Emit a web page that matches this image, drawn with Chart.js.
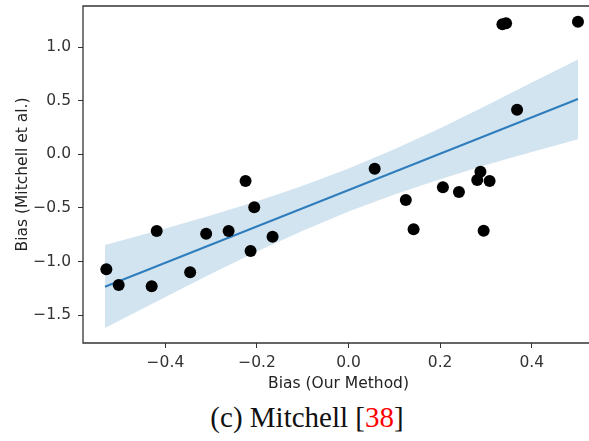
<!DOCTYPE html>
<html>
<head>
<meta charset="utf-8">
<script src="https://cdn.jsdelivr.net/npm/chart.js@4/dist/chart.umd.min.js"></script>
<style>
  html, body { margin: 0; padding: 0; background: #fff; overflow: hidden; }
  #wrap { position: relative; width: 600px; height: 400px; }
  #chart { display: block; }
  #caption {
    position: absolute; left: 0; top: 401px; width: 614px;
    text-align: center; font-family: "Liberation Serif", serif;
    font-size: 29px; line-height: 32px; color: #111; white-space: nowrap;
  }
  #caption .ref { color: #f00; }
</style>
</head>
<body>
<div id="wrap"><canvas id="chart" width="600" height="400"></canvas></div>
<div id="caption">(c) Mitchell [<span class="ref">38</span>]</div>
<script>
// per-sample bias, ours vs. Mitchell et al.
const biasOurs = [-0.529, -0.502, -0.430, -0.419, -0.346, -0.311, -0.262, -0.225,
  -0.214, -0.206, -0.166, 0.057, 0.125, 0.142, 0.206, 0.241, 0.281, 0.288, 0.295,
  0.308, 0.336, 0.344, 0.368, 0.501];
const biasMitchell = [-1.073, -1.219, -1.231, -0.715, -1.101, -0.740, -0.715, -0.249,
  -0.902, -0.495, -0.768, -0.134, -0.426, -0.700, -0.308, -0.352, -0.240, -0.162, -0.713,
  -0.249, 1.213, 1.222, 0.416, 1.237];

// regression line and its confidence band
const fitX = [-0.532, 0.501];
const fitY = [-1.235, 0.516];
const bandX = [-0.532, -0.4, -0.3, -0.2, -0.1, 0, 0.1, 0.2, 0.3, 0.4, 0.501];
const bandUpper = [-0.845, -0.691, -0.569, -0.437, -0.294, -0.133, 0.047, 0.244, 0.453, 0.669, 0.885];
const bandLower = [-1.620, -1.331, -1.115, -0.907, -0.712, -0.533, -0.375, -0.232, -0.101, 0.021, 0.140];

const xTicks = [-0.4, -0.2, 0, 0.2, 0.4];
const yTicks = [-1.5, -1.0, -0.5, 0, 0.5, 1.0];

const pairs = (xs, ys) => xs.map((x, i) => ({ x: x, y: ys[i] }));
const fmt = v => (v < 0 ? '\u2212' : '') + Math.abs(v).toFixed(1);

const axisColor = '#333';
const font = { family: 'DejaVu Sans', size: 15.5 };

// left, top and bottom spines (the right one falls past the page edge)
const frame = {
  id: 'frame',
  afterDraw(chart) {
    const a = chart.chartArea, ctx = chart.ctx;
    ctx.save();
    ctx.strokeStyle = axisColor;
    ctx.lineWidth = 1.3;
    ctx.beginPath();
    ctx.moveTo(a.right + 2, a.top);
    ctx.lineTo(a.left, a.top);
    ctx.lineTo(a.left, a.bottom);
    ctx.lineTo(a.right + 2, a.bottom);
    ctx.stroke();
    ctx.restore();
  }
};

new Chart(document.getElementById('chart'), {
  type: 'scatter',
  data: {
    datasets: [
      {
        type: 'line', data: pairs(bandX, bandUpper), borderWidth: 0,
        pointRadius: 0, fill: false, order: 3
      },
      {
        type: 'line', data: pairs(bandX, bandLower), borderWidth: 0,
        pointRadius: 0, fill: '-1', backgroundColor: 'rgba(31,119,180,0.2)', order: 3
      },
      {
        type: 'line', data: pairs(fitX, fitY), borderColor: '#2f7dbd',
        borderWidth: 2, pointRadius: 0, fill: false, order: 2
      },
      {
        data: pairs(biasOurs, biasMitchell), backgroundColor: '#000',
        borderWidth: 0, pointRadius: 6, order: 1
      }
    ]
  },
  plugins: [frame],
  options: {
    responsive: false,
    animation: false,
    events: [],
    layout: { padding: { top: 6, right: 0, left: 0, bottom: 0 } },
    plugins: { legend: { display: false }, tooltip: { enabled: false } },
    scales: {
      x: {
        type: 'linear', min: -0.58, max: 0.536,
        afterBuildTicks: s => { s.ticks = xTicks.map(v => ({ value: v })); },
        afterFit: s => { s.height = 57; s.paddingLeft = 0; s.paddingRight = 0; },
        grid: { drawOnChartArea: false, drawTicks: true, tickLength: 5, color: axisColor, lineWidth: 1 },
        border: { display: false },
        ticks: { color: axisColor, font: font, padding: 6, maxRotation: 0, callback: v => fmt(v) },
        title: { display: true, text: 'Bias (Our Method)', color: '#222', font: font, padding: { top: 0, bottom: 7 } }
      },
      y: {
        type: 'linear', min: -1.76, max: 1.383,
        afterBuildTicks: s => { s.ticks = yTicks.map(v => ({ value: v })); },
        afterFit: s => { s.width = 83; s.paddingTop = 0; s.paddingBottom = 0; },
        grid: { drawOnChartArea: false, drawTicks: true, tickLength: 5, color: axisColor, lineWidth: 1 },
        border: { display: false },
        ticks: { color: axisColor, font: font, padding: 7, callback: v => fmt(v) },
        title: { display: true, text: 'Bias (Mitchell et al.)', color: '#222', font: font, padding: { top: 14, bottom: 0 } }
      }
    }
  }
});
</script>
</body>
</html>
